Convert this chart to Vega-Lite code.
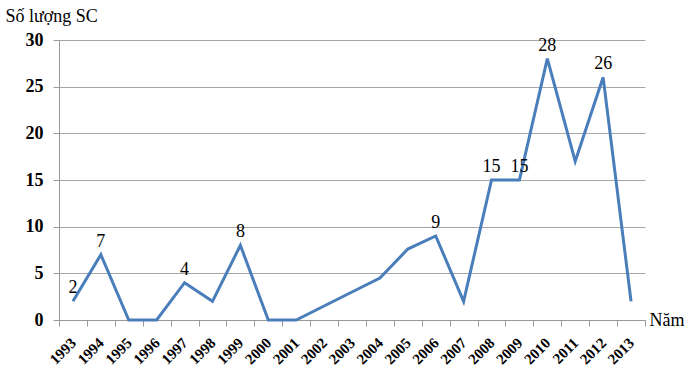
{
  "$schema": "https://vega.github.io/schema/vega-lite/v6.json",
  "width": 586,
  "height": 280,
  "autosize": {"type": "none"},
  "padding": {"left": 59, "top": 40, "right": 55, "bottom": 60},
  "background": "white",
  "config": {
    "view": {"stroke": null},
    "font": "Liberation Serif",
    "axis": {"labelFont": "Liberation Serif", "titleFont": "Liberation Serif"},
    "text": {"font": "Liberation Serif"}
  },
  "data": {
    "values": [
      {"year": "1993", "value": 2, "label": "2"},
      {"year": "1994", "value": 7, "label": "7"},
      {"year": "1995", "value": 0, "label": ""},
      {"year": "1996", "value": 0, "label": ""},
      {"year": "1997", "value": 4, "label": "4"},
      {"year": "1998", "value": 2, "label": ""},
      {"year": "1999", "value": 8, "label": "8"},
      {"year": "2000", "value": 0, "label": ""},
      {"year": "2001", "value": 0, "label": ""},
      {"year": "2002", "value": 1.5, "label": ""},
      {"year": "2003", "value": 3, "label": ""},
      {"year": "2004", "value": 4.5, "label": ""},
      {"year": "2005", "value": 7.6, "label": ""},
      {"year": "2006", "value": 9, "label": "9"},
      {"year": "2007", "value": 2, "label": ""},
      {"year": "2008", "value": 15, "label": "15"},
      {"year": "2009", "value": 15, "label": "15"},
      {"year": "2010", "value": 28, "label": "28"},
      {"year": "2011", "value": 17, "label": ""},
      {"year": "2012", "value": 26, "label": "26"},
      {"year": "2013", "value": 2, "label": ""}
    ]
  },
  "encoding": {
    "x": {
      "field": "year",
      "type": "ordinal",
      "scale": {"type": "band", "paddingInner": 0, "paddingOuter": 0},
      "axis": {
        "title": "Năm",
        "titleFontSize": 18,
        "titleFontWeight": "normal",
        "titleColor": "black",
        "titleAngle": 0,
        "titleAlign": "left",
        "titleBaseline": "middle",
        "titleAnchor": "end",
        "titleX": 590,
        "titleY": 0,
        "labelAngle": -45,
        "labelAlign": "right",
        "labelBaseline": "middle",
        "labelFontWeight": "bold",
        "labelFontSize": 15,
        "labelColor": "black",
        "labelPadding": 14,
        "tickBand": "extent",
        "tickSize": 6,
        "tickColor": "#999999",
        "domainColor": "#999999",
        "grid": false
      }
    },
    "y": {
      "field": "value",
      "type": "quantitative",
      "scale": {"domain": [0, 30], "nice": false},
      "axis": {
        "values": [0, 5, 10, 15, 20, 25, 30],
        "title": "Số lượng SC",
        "titleFontSize": 18,
        "titleFontWeight": "normal",
        "titleColor": "black",
        "titleAngle": 0,
        "titleAlign": "left",
        "titleBaseline": "middle",
        "titleX": -54,
        "titleY": -24,
        "labelFontWeight": "bold",
        "labelFontSize": 18,
        "labelColor": "black",
        "labelPadding": 10,
        "tickSize": 6,
        "tickColor": "#999999",
        "domainColor": "#999999",
        "gridColor": "#a6a6a6",
        "grid": true
      }
    }
  },
  "layer": [
    {
      "mark": {"type": "line", "color": "#4a7ebb", "strokeWidth": 3}
    },
    {
      "mark": {"type": "text", "dy": -13, "fontSize": 18, "color": "black"},
      "encoding": {"text": {"field": "label"}}
    }
  ]
}
